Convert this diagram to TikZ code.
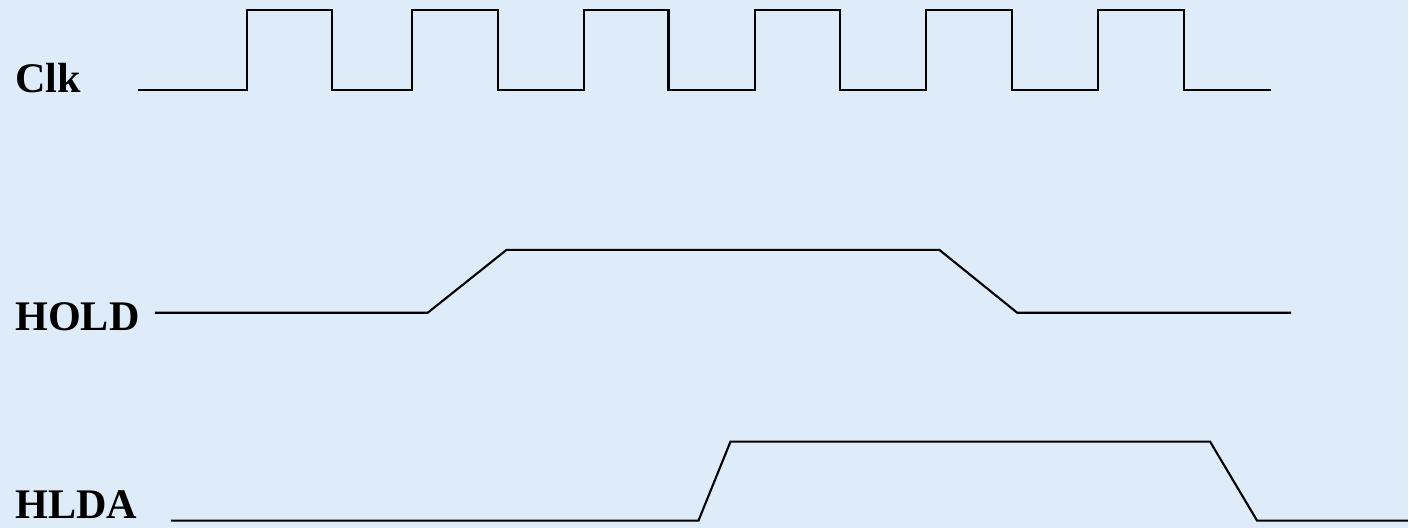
\documentclass[tikz,border=0pt]{standalone}
\usepackage{fontspec}
\setmainfont{Liberation Serif}
\usetikzlibrary{positioning}
\definecolor{slidebg}{RGB}{222,235,248}

\begin{document}
\begin{tikzpicture}[x=0.02cm,y=-0.02cm,
		wave/.style={line width=1.2pt,black,line join=miter},
		sig label/.style={font=\fontsize{24}{28}\selectfont\bfseries,anchor=base west,inner sep=0pt}]

		\fill[slidebg] (0,0) rectangle (1409,528);

		\node[sig label] (clk) at (15,93) {Clk};
		\node[sig label] (hold) at (15,331) {HOLD};
		\node[sig label] (hlda) at (15,519) {HLDA};

		% clock
		\draw[wave] (138,90)
			\foreach \r/\f in {247/332,412/498,584/669,756/841,927/1013,1099/1185}
			{ -- (\r,90) -- (\r,10) -- (\f,10) -- (\f,90) } -- (1272,90);

		% HOLD
		\coordinate (h0) at (155,313);
		\coordinate (h1) at (428,313);
		\coordinate (h2) at (507,250);
		\coordinate (h3) at (940,250);
		\coordinate (h4) at (1018,313);
		\coordinate (h5) at (1292,313);
		\draw[wave] (h0) -- (h1) -- (h2) -- (h3) -- (h4) -- (h5);

		% HLDA
		\coordinate (a0) at (171,521);
		\coordinate (a1) at (699,521);
		\coordinate (a2) at (731,442);
		\coordinate (a3) at (1211,442);
		\coordinate (a4) at (1258,521);
		\coordinate (a5) at (1409,521);
		\draw[wave] (a0) -- (a1) -- (a2) -- (a3) -- (a4) -- (a5);
\end{tikzpicture}
\end{document}
